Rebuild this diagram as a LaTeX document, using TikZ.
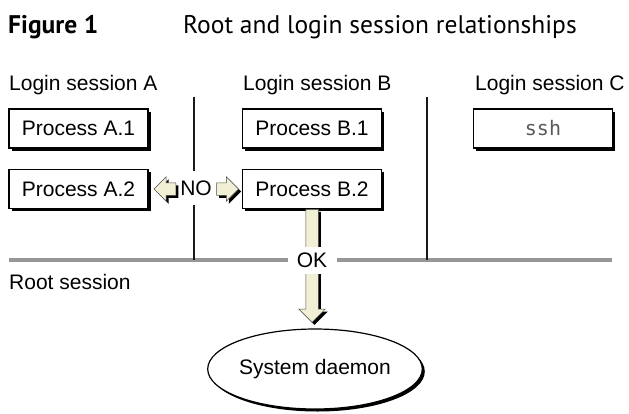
\documentclass[tikz,border=0pt]{standalone}
\usepackage{fontspec}
\setmainfont{Liberation Sans}
\newfontfamily\figfont{PT Sans}
\newfontfamily\sshfont{DejaVu Sans Mono}
\definecolor{arrowcream}{RGB}{242,240,212}
\definecolor{rootgray}{RGB}{150,150,150}
\definecolor{sshgray}{RGB}{90,90,90}
\usetikzlibrary{positioning,shapes.geometric,shapes.arrows,shadows}

\begin{document}
\begin{tikzpicture}[x=1pt,y=-1pt,
  every node/.style={font=\fontsize{21}{24}\selectfont},
  blackshadow/.style={drop shadow={shadow xshift=2.5pt,shadow yshift=-2.5pt,fill=black,opacity=1}},
  procbox/.style={draw,line width=1.2pt,fill=white,minimum width=139pt,
    minimum height=39pt,inner sep=0pt,blackshadow},
  fatarrow/.style={single arrow,draw=black!70,line width=0.5pt,fill=arrowcream,
    inner sep=6pt,single arrow head extend=6pt,blackshadow},
  sessline/.style={line width=2pt,black!90},
  rootline/.style={line width=4pt,rootgray}]
  \fill[white] (0,0) rectangle (629,413);
  \useasboundingbox (0,0) rectangle (629,413);
  % Title
  \node[anchor=base west,inner sep=0pt,font=\figfont\bfseries\fontsize{25.5}{28}\selectfont]
    (fignum) at (8,33) {Figure 1};
  \node[anchor=base west,inner sep=0pt,font=\figfont\fontsize{25.5}{28}\selectfont]
    (figtitle) at (183,33) {Root and login session relationships};
  % Session labels
  \node[anchor=base west,inner sep=0pt] (labA) at (9,90) {Login session A};
  \node[anchor=base west,inner sep=0pt] (labB) at (243,90) {Login session B};
  \node[anchor=base west,inner sep=0pt] (labC) at (475,90) {Login session C};
  \node[anchor=base west,inner sep=0pt] (labroot) at (9,289) {Root session};
  % Session borders
  \coordinate (rootL) at (9,260);
  \coordinate (rootR) at (612,260);
  \coordinate (sepAtop) at (194,97);
  \coordinate (sepAbot) at (194,260);
  \coordinate (sepBtop) at (427,97);
  \coordinate (sepBbot) at (427,260);
  \draw[rootline] (rootL) -- (rootR);
  \draw[sessline] (sepAtop) -- (sepAbot);
  \draw[sessline] (sepBtop) -- (sepBbot);
  % Processes
  \node[procbox] (procA1) at (78.5,128.5) {Process A.1};
  \node[procbox] (procA2) at (78.5,189) {Process A.2};
  \node[procbox] (procB1) at (312,128.5) {Process B.1};
  \node[procbox] (procB2) at (312,189) {Process B.2};
  \node[procbox,font=\sshfont\fontsize{20}{24}\selectfont,text=sshgray] (ssh) at (543,128.5) {ssh};
  % NO
  \node[fill=white,inner xsep=2pt,minimum height=34pt] (no) at (196,188) {NO};
  \node[fatarrow,minimum height=22pt,shape border rotate=180,anchor=tip]
    (noleft) at ([xshift=5pt]procA2.east) {};
  \node[fatarrow,minimum height=22pt,anchor=tip]
    (noright) at ([xshift=-3pt]procB2.west) {};
  % OK
  \node[fatarrow,minimum height=113pt,single arrow head extend=7pt,
    shape border rotate=270,anchor=tail] (okarrow) at (procB2.south) {};
  \node[fill=white,minimum width=49pt,minimum height=27pt,inner sep=0pt] (ok) at (312,260) {OK};
  % Daemon
  \node[ellipse,draw,line width=1.2pt,fill=white,minimum width=190pt,minimum height=80pt,
    inner sep=0pt,blackshadow] (daemon) at (315,369) {System daemon};
\end{tikzpicture}
\end{document}
